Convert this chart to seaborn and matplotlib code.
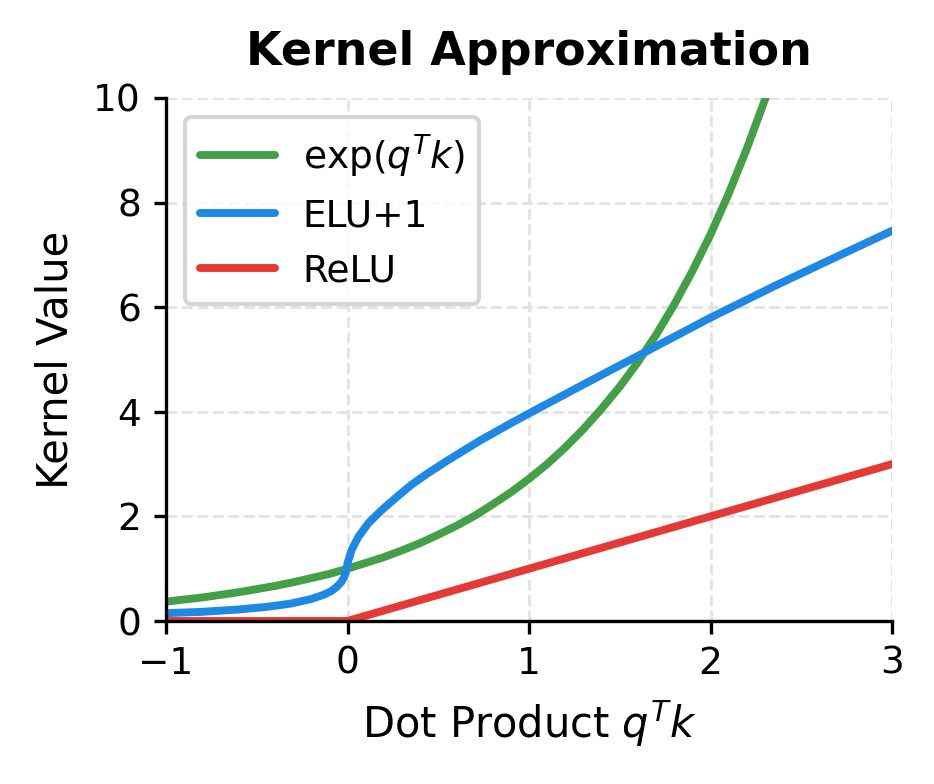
import numpy as np
import pandas as pd
import matplotlib
matplotlib.use("Agg")
import matplotlib.pyplot as plt
import seaborn as sns

# ---- data ----
exp_x = [-1.0, -0.9, -0.8, -0.7, -0.6, -0.5, -0.4, -0.3, -0.2, -0.1, 0.0,
         0.1, 0.2, 0.3, 0.4, 0.5, 0.6, 0.7, 0.8, 0.9, 1.0,
         1.1, 1.2, 1.3, 1.4, 1.5, 1.6, 1.7, 1.8, 1.9, 2.0,
         2.1, 2.2, 2.3, 2.4]
exp_y = [0.37, 0.41, 0.45, 0.50, 0.55, 0.61, 0.67, 0.74, 0.82, 0.90, 1.00,
         1.11, 1.22, 1.35, 1.49, 1.65, 1.82, 2.01, 2.23, 2.46, 2.72,
         3.00, 3.32, 3.67, 4.06, 4.48, 4.95, 5.47, 6.05, 6.69, 7.39,
         8.17, 9.03, 9.97, 11.02]

elu_x = [-1.0, -0.8, -0.6, -0.445, -0.317, -0.2, -0.133, -0.09, -0.06,
         -0.035, -0.018, -0.007, 0.0, 0.023, 0.06, 0.115, 0.188, 0.271,
         0.354, 0.436, 0.547, 0.73, 0.91, 1.06, 1.25, 1.43, 1.65, 2.0,
         2.35, 2.71, 3.0]
elu_y = [0.15, 0.175, 0.22, 0.27, 0.33, 0.42, 0.50, 0.57, 0.65,
         0.74, 0.84, 0.96, 1.10, 1.36, 1.61, 1.87, 2.12, 2.37,
         2.61, 2.81, 3.06, 3.45, 3.80, 4.08, 4.43, 4.76, 5.16, 5.80,
         6.40, 6.99, 7.46]

relu_x = [-1.0, 0.0, 3.0]
relu_y = [0.0, 0.0, 3.0]

labels = [r"$\exp(q^Tk)$", "ELU+1", "ReLU"]
colors = ["#43A047", "#1E88E5", "#E53935"]

x_ticks = [-1, 0, 1, 2, 3]
y_ticks = [0, 2, 4, 6, 8, 10]

# ---- plotting ----
sns.set_style("white")
plt.rcParams["font.family"] = ["DejaVu Sans"]
plt.rcParams["text.color"] = "black"
plt.rcParams["axes.labelcolor"] = "black"
plt.rcParams["xtick.color"] = "black"
plt.rcParams["ytick.color"] = "black"

fig = plt.figure(figsize=(934 / 300, 784 / 300), dpi=300)
ax = fig.add_axes([166 / 934, 1 - 621 / 784, (892 - 166) / 934, (621 - 98) / 784])

series = [(exp_x, exp_y), (elu_x, elu_y), (relu_x, relu_y)]
for (xs, ys), lab, col in zip(series, labels, colors):
    df = pd.DataFrame({"x": xs, "y": ys})
    sns.lineplot(data=df, x="x", y="y", ax=ax, color=col, linewidth=1.9,
                 label=lab, sort=False, estimator=None)

ax.set_xlim(-1, 3)
ax.set_ylim(0, 10)
ax.set_xticks(x_ticks)
ax.set_yticks(y_ticks)
ax.grid(True, linestyle="--", color="#e3e3e3", linewidth=0.7)
ax.set_axisbelow(True)

for s in ["top", "right"]:
    ax.spines[s].set_visible(False)
for s in ["left", "bottom"]:
    ax.spines[s].set_color("black")
    ax.spines[s].set_linewidth(0.8)

ax.tick_params(axis="both", which="major", direction="out", length=3,
               width=0.8, colors="black", labelsize=9, bottom=True, left=True,
               pad=3)

ax.set_xlabel(r"Dot Product $q^Tk$", fontsize=10, labelpad=4)
ax.set_ylabel("Kernel Value", fontsize=10, labelpad=4)
ax.set_title("Kernel Approximation", fontsize=11, fontweight="bold", pad=8)

leg = ax.legend(loc="upper left", fontsize=9, frameon=True, fancybox=True,
                handlelength=2.0, handletextpad=0.75, labelspacing=0.5,
                borderaxespad=0.5)
leg.get_frame().set_edgecolor("#cccccc")
leg.get_frame().set_linewidth(1.0)
leg.get_frame().set_alpha(0.8)

fig.savefig("out.png", dpi=300)
